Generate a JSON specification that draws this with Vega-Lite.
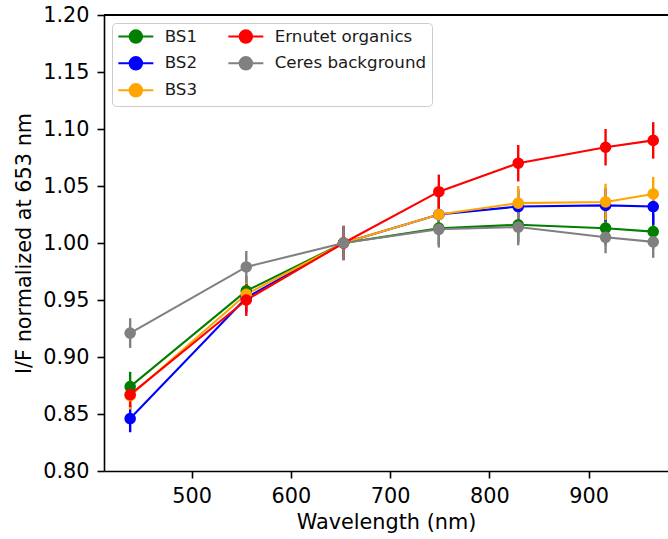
{
  "$schema": "https://vega.github.io/schema/vega-lite/v6.json",
  "width": 564,
  "height": 456,
  "autosize": {"type": "none"},
  "padding": {"left": 104, "top": 15, "right": 0, "bottom": 68},
  "background": "white",
  "view": {"stroke": null},
  "config": {
    "font": "DejaVu Sans",
    "axis": {
      "grid": false,
      "domainColor": "black",
      "domainWidth": 1.6,
      "tickColor": "black",
      "tickWidth": 1.6,
      "tickSize": 7,
      "labelColor": "black",
      "labelFont": "DejaVu Sans",
      "labelFontSize": 20.8,
      "titleFont": "DejaVu Sans",
      "titleFontSize": 20.8,
      "titleFontWeight": "normal",
      "titleColor": "black",
      "labelPadding": 8
    }
  },
  "data": {
    "values": [
      {"series": "BS1", "wl": 438, "val": 0.874, "err": 0.013},
      {"series": "BS1", "wl": 555, "val": 0.958, "err": 0.013},
      {"series": "BS1", "wl": 653, "val": 1.000, "err": 0.015},
      {"series": "BS1", "wl": 749, "val": 1.013, "err": 0.015},
      {"series": "BS1", "wl": 829, "val": 1.016, "err": 0.015},
      {"series": "BS1", "wl": 917, "val": 1.013, "err": 0.015},
      {"series": "BS1", "wl": 965, "val": 1.010, "err": 0.015},
      {"series": "BS2", "wl": 438, "val": 0.846, "err": 0.012},
      {"series": "BS2", "wl": 555, "val": 0.952, "err": 0.013},
      {"series": "BS2", "wl": 653, "val": 1.000, "err": 0.015},
      {"series": "BS2", "wl": 749, "val": 1.025, "err": 0.015},
      {"series": "BS2", "wl": 829, "val": 1.032, "err": 0.015},
      {"series": "BS2", "wl": 917, "val": 1.033, "err": 0.015},
      {"series": "BS2", "wl": 965, "val": 1.032, "err": 0.016},
      {"series": "BS3", "wl": 438, "val": 0.866, "err": 0.012},
      {"series": "BS3", "wl": 555, "val": 0.955, "err": 0.013},
      {"series": "BS3", "wl": 653, "val": 1.000, "err": 0.015},
      {"series": "BS3", "wl": 749, "val": 1.025, "err": 0.015},
      {"series": "BS3", "wl": 829, "val": 1.035, "err": 0.015},
      {"series": "BS3", "wl": 917, "val": 1.036, "err": 0.016},
      {"series": "BS3", "wl": 965, "val": 1.043, "err": 0.015},
      {"series": "Ernutet organics", "wl": 438, "val": 0.867, "err": 0.011},
      {"series": "Ernutet organics", "wl": 555, "val": 0.950, "err": 0.014},
      {"series": "Ernutet organics", "wl": 653, "val": 1.000, "err": 0.015},
      {"series": "Ernutet organics", "wl": 749, "val": 1.045, "err": 0.015},
      {"series": "Ernutet organics", "wl": 829, "val": 1.070, "err": 0.016},
      {"series": "Ernutet organics", "wl": 917, "val": 1.084, "err": 0.016},
      {"series": "Ernutet organics", "wl": 965, "val": 1.090, "err": 0.016},
      {"series": "Ceres background", "wl": 438, "val": 0.921, "err": 0.013},
      {"series": "Ceres background", "wl": 555, "val": 0.979, "err": 0.014},
      {"series": "Ceres background", "wl": 653, "val": 1.000, "err": 0.015},
      {"series": "Ceres background", "wl": 749, "val": 1.012, "err": 0.016},
      {"series": "Ceres background", "wl": 829, "val": 1.014, "err": 0.016},
      {"series": "Ceres background", "wl": 917, "val": 1.005, "err": 0.014},
      {"series": "Ceres background", "wl": 965, "val": 1.001, "err": 0.014}
    ]
  },
  "encoding": {
    "x": {
      "field": "wl",
      "type": "quantitative",
      "scale": {"domain": [411.65, 979.9], "nice": false, "zero": false},
      "axis": {"values": [500, 600, 700, 800, 900], "title": "Wavelength (nm)", "titlePadding": 7}
    },
    "y": {
      "field": "val",
      "type": "quantitative",
      "scale": {"domain": [0.8, 1.2], "nice": false, "zero": false},
      "axis": {"values": [0.8, 0.85, 0.9, 0.95, 1.0, 1.05, 1.1, 1.15, 1.2], "format": ".2f", "title": "I/F normalized at 653 nm", "titlePadding": 8}
    },
    "color": {
      "field": "series",
      "type": "nominal",
      "scale": {
        "domain": ["BS1", "BS2", "BS3", "Ernutet organics", "Ceres background"],
        "range": ["#008000", "#0000ff", "#ffa500", "#ff0000", "#808080"]
      },
      "legend": {
        "title": null,
        "orient": "none",
        "legendX": 8,
        "legendY": 8,
        "columns": 2,
        "columnPadding": 26,
        "rowPadding": 6,
        "padding": 5,
        "fillColor": "rgba(255,255,255,0.8)",
        "strokeColor": "#cccccc",
        "cornerRadius": 4,
        "labelFont": "DejaVu Sans",
        "labelFontSize": 16.7,
        "labelColor": "#1a1a1a",
        "labelOffset": 31,
        "symbolType": "M-1,0H4M0.607,0A0.893,0.893,0,1,1,2.393,0A0.893,0.893,0,1,1,0.607,0Z",
        "symbolSize": 196,
        "symbolStrokeWidth": 2,
        "symbolOpacity": 1,
        "encode": {
          "symbols": {
            "update": {
              "fill": {"scale": "color", "field": "value"},
              "stroke": {"scale": "color", "field": "value"},
              "strokeWidth": {"value": 2},
              "opacity": {"value": 1}
            }
          }
        }
      }
    }
  },
  "layer": [
    {
      "mark": {"type": "rule", "color": "black", "strokeWidth": 1.6},
      "encoding": {"y": {"datum": 1.2}, "x": null, "color": null}
    },
    {
      "mark": {"type": "line", "strokeWidth": 2.1}
    },
    {
      "mark": {"type": "errorbar", "thickness": 2.4, "ticks": false},
      "encoding": {"yError": {"field": "err"}}
    },
    {
      "mark": {"type": "point", "filled": true, "size": 135, "opacity": 1, "shape": "circle"}
    }
  ]
}
